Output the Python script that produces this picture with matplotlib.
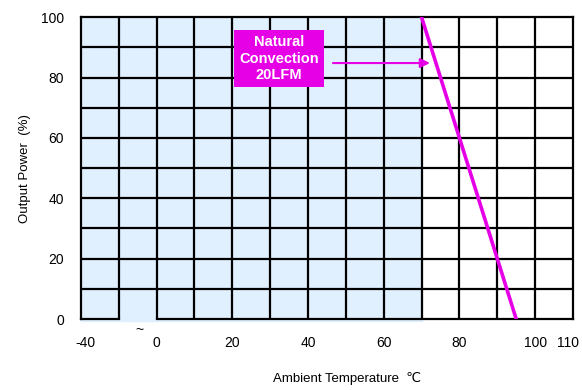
import matplotlib
matplotlib.use("Agg")
import matplotlib.pyplot as plt

plt.rcParams["font.family"] = ["Liberation Sans", "DejaVu Sans"]

# derating curve (axis is broken: leftmost gridline stands for -40)
temp = [70, 95]
power = [100, 0]

xticks = [-20, 0, 20, 40, 60, 80, 100, 110]
xlabels = ["-40", "0", "20", "40", "60", "80", "100", "110"]
yticks = [0, 20, 40, 60, 80, 100]

magenta = "#E600E6"

fig = plt.figure(figsize=(5.82, 3.9), dpi=100)
ax = fig.add_axes([0.139, 0.182, 0.8455, 0.774])

ax.set_xlim(-20, 110)
ax.set_ylim(0, 100)

# light blue operating region
ax.axvspan(-20, 70, ymin=-0.008, color="#E0F0FF", zorder=0, clip_on=False)

# grid every 10
for gx in range(-10, 110, 10):
    ax.axvline(gx, color="black", lw=1.6, zorder=1)
for gy in range(10, 100, 10):
    ax.axhline(gy, color="black", lw=1.6, zorder=1)

for s in ["left", "right", "top"]:
    ax.spines[s].set_linewidth(1.6)
ax.spines["bottom"].set_visible(False)
# bottom edge with a gap for the axis break
ax.plot([-20, -10], [0, 0], color="black", lw=1.6, clip_on=False, zorder=2)
ax.plot([0, 110], [0, 0], color="black", lw=1.6, clip_on=False, zorder=2)
ax.text(-4.5, -1.2, "~", ha="center", va="top", fontsize=10)

ax.plot(temp, power, color=magenta, lw=2.6, zorder=3)

ax.set_xticks([])
ax.set_yticks(yticks)
ax.set_yticklabels([str(v) for v in yticks], fontsize=10)
ax.tick_params(axis="y", length=0, pad=12)

for xv, lab in zip(xticks, xlabels):
    off = 1.2 if lab == "-40" else (-1.3 if lab == "110" else 0)
    ax.text(xv + off, -5.5, lab, ha="center", va="top", fontsize=10)

ax.set_ylabel("Output Power  (%)", fontsize=9.5, labelpad=7)
fig.text(273 / 582, 0.03, "Ambient Temperature  \u2103", ha="left", va="center", fontsize=9.5)

# annotation box with arrow
ax.text(32.4, 86.3, "Natural\nConvection\n20LFM", ha="center", va="center",
        color="white", fontweight="bold", fontsize=10.5, linespacing=1.2,
        bbox=dict(boxstyle="square,pad=0.35", facecolor=magenta, edgecolor="none"),
        zorder=4)
ax.annotate("", xy=(72.2, 84.8), xytext=(46.6, 84.8),
            arrowprops=dict(arrowstyle="-|>", color=magenta, lw=1.5,
                            mutation_scale=14, shrinkA=0, shrinkB=0),
            zorder=4)

fig.savefig("out.png", dpi=100)
